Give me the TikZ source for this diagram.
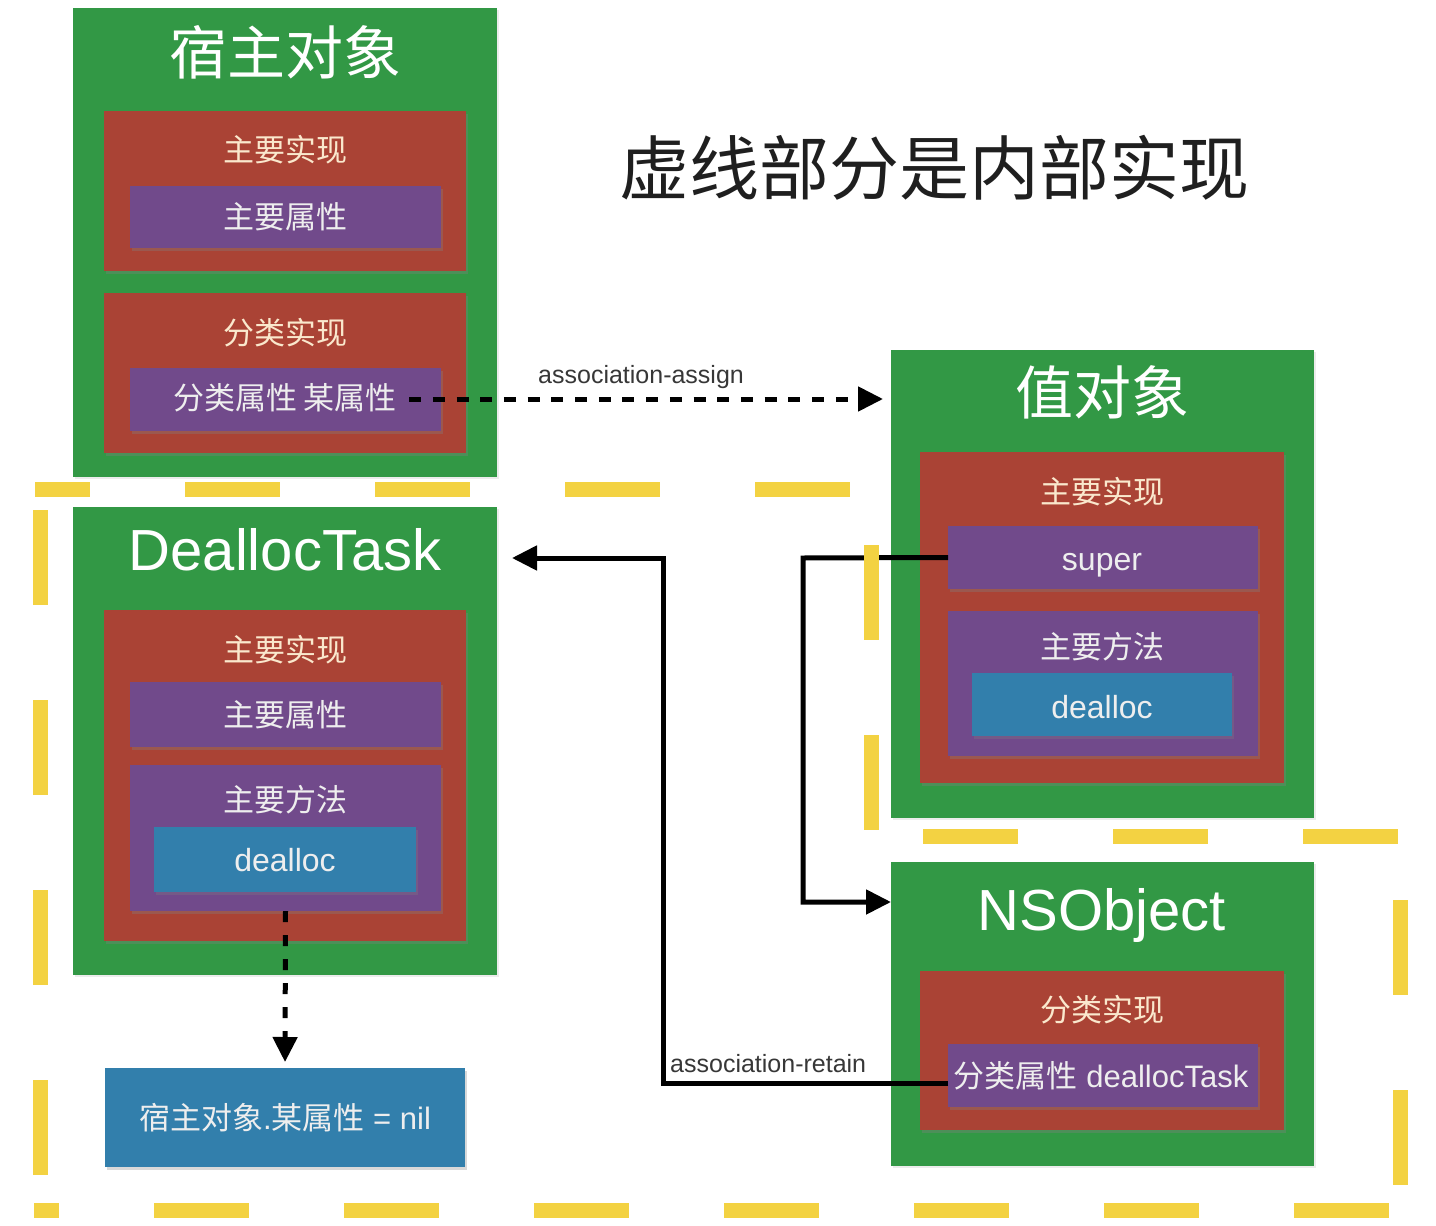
\documentclass[tikz,border=0pt]{standalone}
\usepackage{fontspec}
\setmainfont{Liberation Sans}
\newfontfamily\cjk{Noto Sans CJK SC}
\usetikzlibrary{arrows.meta,fit,shadows}
\definecolor{gbox}{RGB}{50,152,69}
\definecolor{rbox}{RGB}{170,67,53}
\definecolor{pbox}{RGB}{113,74,139}
\definecolor{bbox}{RGB}{50,127,172}
\definecolor{ylw}{RGB}{243,210,66}
\definecolor{cream}{RGB}{250,232,205}
\definecolor{lite}{RGB}{238,238,238}
\definecolor{lbl}{RGB}{55,55,55}
\begin{document}
\begin{tikzpicture}[x=1pt,y=-1pt,
  bx/.style={inner sep=0pt,outer sep=0pt},
  gfill/.style={bx,fill=gbox,drop shadow={shadow xshift=2pt,shadow yshift=-2pt,opacity=0.15}},
  rfill/.style={bx,fill=rbox,drop shadow={shadow xshift=1.5pt,shadow yshift=-3pt,opacity=0.35}},
  pfill/.style={bx,fill=pbox,drop shadow={shadow xshift=1.5pt,shadow yshift=-3pt,opacity=0.35}},
  bfill/.style={bx,fill=bbox,drop shadow={shadow xshift=1.5pt,shadow yshift=-3pt,opacity=0.3}},
  ttlcjk/.style={inner sep=0pt,text=white,font={\cjk\fontsize{58}{62}\selectfont}},
  ttllat/.style={inner sep=0pt,text=white,font={\fontsize{58}{62}\selectfont}},
  redlbl/.style={inner sep=0pt,text=cream,font={\cjk\fontsize{31}{34}\selectfont}},
  purlbl/.style={inner sep=0pt,text=lite,font={\cjk\fontsize{31}{34}\selectfont}},
  latlbl/.style={inner sep=0pt,text=lite,font={\fontsize{32}{34}\selectfont}},
  mixlbl/.style={inner sep=0pt,text=lite,font={\fontsize{31}{34}\selectfont}},
  assoc/.style={inner sep=0pt,text=lbl,font={\fontsize{25}{28}\selectfont}},
  bigt/.style={inner sep=0pt,text=black!88,font={\cjk\fontsize{70}{74}\selectfont}},
  ylwdash/.style={draw=ylw,line width=15pt,dash pattern=on 95pt off 95pt},
  dasharrow/.style={draw=black,line width=5pt,dash pattern=on 12pt off 11.7pt,-{Triangle[length=25pt,width=24pt]}},
  solidarrow/.style={draw=black,line width=5pt,-{Triangle[length=25pt,width=24pt]}}
]
\useasboundingbox (0,0) rectangle (1436,1226);

% ---------- host object ----------
\node[gfill,fit={(73,8) (497,477)}] (host) {};
\node[rfill,fit={(104,111) (466,271)}] (hred1) {};
\node[pfill,fit={(130,186) (441,248)}] (hpur1) {};
\node[rfill,fit={(104,293) (466,453)}] (hred2) {};
\node[pfill,fit={(130,368) (441,431)}] (hpur2) {};
\node[ttlcjk] (hosttitle) at (285,52) {宿主对象};
\node[redlbl] (hmainimpl) at (285,150) {主要实现};
\node[purlbl] (hmainattr) at (285,217) {主要属性};
\node[redlbl] (hcatimpl) at (285,333) {分类实现};
\node[purlbl] (hattr) at (285,398) {分类属性 某属性};

% ---------- big title ----------
\node[bigt] (bigtitle) at (934,168) {虚线部分是内部实现};

% ---------- value object ----------
\node[gfill,fit={(891,350) (1314,818)}] (val) {};
\node[rfill,fit={(920,452) (1284,783)}] (vred) {};
\node[pfill,fit={(948,526) (1258,589)}] (super) {};
\node[pfill,fit={(948,611) (1258,756)}] (vmeth) {};
\node[bfill,fit={(972,673) (1232,736)}] (vdealloc) {};
\node[ttlcjk] (valtitle) at (1102,392) {值对象};
\node[redlbl] (vmainimpl) at (1102,492) {主要实现};
\node[latlbl,anchor=base] (supertext) at (1102,570) {super};
\node[purlbl] (vmethtext) at (1102,647) {主要方法};
\node[latlbl,anchor=base] (vdealloctext) at (1102,718) {dealloc};

% ---------- DeallocTask ----------
\node[gfill,fit={(73,507) (497,975)}] (dtask) {};
\node[rfill,fit={(104,610) (466,941)}] (dred) {};
\node[pfill,fit={(130,682) (441,747)}] (dattr) {};
\node[pfill,fit={(130,765) (441,911)}] (dmeth) {};
\node[bfill,fit={(154,827) (416,892)}] (ddealloc) {};
\node[ttllat,anchor=base] (dtasktitle) at (285,570) {DeallocTask};
\node[redlbl] (dmainimpl) at (285,650) {主要实现};
\node[purlbl] (dattrtext) at (285,715) {主要属性};
\node[purlbl] (dmethtext) at (285,800) {主要方法};
\node[latlbl,anchor=base] (ddealloctext) at (285,871) {dealloc};

% ---------- nil box ----------
\node[bfill,fit={(105,1068) (465,1167)}] (nilbox) {};
\node[mixlbl,anchor=base] (niltext) at (285,1129) {{\cjk 宿主对象}.{\cjk 某属性} = nil};

% ---------- NSObject ----------
\node[gfill,fit={(891,862) (1314,1166)}] (nsobj) {};
\node[rfill,fit={(920,971) (1284,1130)}] (nsred) {};
\node[pfill,fit={(948,1044) (1258,1107)}] (nsattr) {};
\node[ttllat,anchor=base] (nstitle) at (1102,930) {NSObject};
\node[redlbl] (nscatimpl) at (1102,1010) {分类实现};
\node[mixlbl,anchor=base] (nsattrtext) at (1101,1087) {{\cjk 分类属性} deallocTask};

% ---------- connectors ----------
\draw[dasharrow,shorten >=8pt] ([xshift=12pt,yshift=-1pt]hattr.east) -- ([yshift=-1pt]hattr.east -| val.west);
\node[assoc,anchor=base west] (lassign) at (538,383) {association-assign};

\draw[dasharrow,dash pattern=on 11pt off 13pt,shorten >=6pt] (dmeth.south) -- (nilbox.north);

\coordinate (retx) at (663,558);
\draw[solidarrow,shorten >=15pt] ([yshift=-7.5pt]nsattr.west) -| (retx) -- (retx -| dtask.east);
\node[assoc,anchor=base west] (lretain) at (670,1072) {association-retain};

\coordinate (supx) at (803,558);
\coordinate (nsin) at (891,902);
\draw[solidarrow] (super.west) -- (supx) |- (nsin);

% ---------- yellow dashed boundary ----------
\draw[ylwdash,dash phase=40pt] (35,489) -- (878,489);
\draw[ylwdash,dash phase=134pt] (871,489) -- (871,836);
\draw[ylwdash,dash phase=138pt] (871,836) -- (1407,836);
\draw[ylwdash,dash phase=126pt] (1400,836) -- (1400,1217);
\draw[ylwdash] (1389,1210) -- (34,1210);
\draw[ylwdash] (40,1175) -- (40,489);
\end{tikzpicture}
\end{document}
